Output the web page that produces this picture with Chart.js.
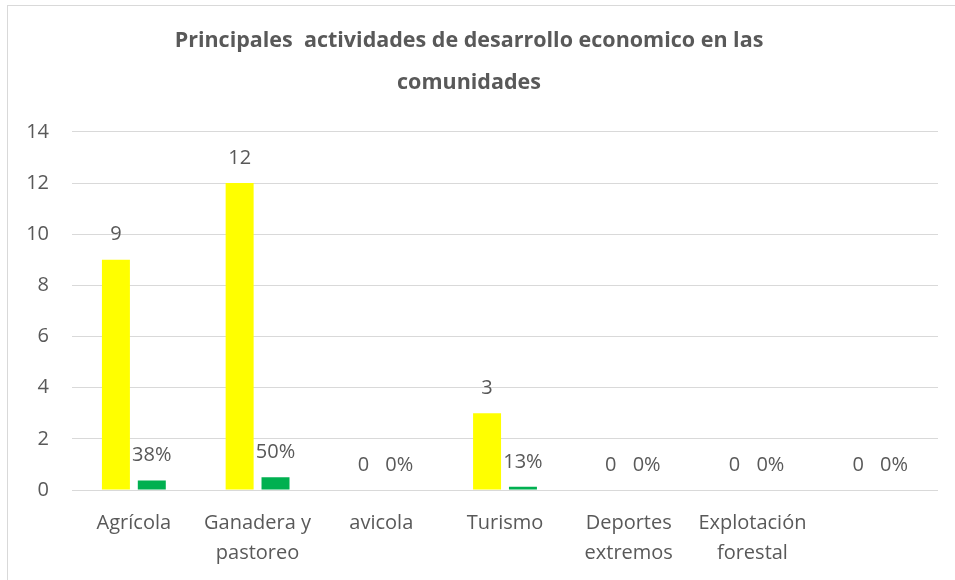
<!DOCTYPE html>
<html>
<head>
<meta charset="utf-8">
<script src="https://cdn.jsdelivr.net/npm/chart.js@4"></script>
<style>
    body { margin: 0; background: #fff; }
    #wrap { position: relative; width: 955px; height: 580px; }
    #frame { position: absolute; left: 7px; top: 5px; width: 960px; height: 590px; border: 1px solid #d9d9d9; box-sizing: border-box; }
    canvas { position: absolute; left: 0; top: 0; }
</style>
</head>
<body>
<div id="wrap">
    <div id="frame"></div>
    <canvas id="chart" width="955" height="580"></canvas>
</div>
<script>
const categories = [
    ['Agrícola'],
    ['Ganadera y', 'pastoreo'],
    ['avicola'],
    ['Turismo'],
    ['Deportes', 'extremos'],
    ['Explotación', 'forestal'],
    ['']
];

// number of communities per activity
const counts = [9, 12, 0, 3, 0, 0, 0];

// share of the total (drawn on the same axis)
const shares = [0.375, 0.5, 0, 0.125, 0, 0, 0];

const titleLines = [
    'Principales  actividades de desarrollo economico en las',
    'comunidades'
];

const textGray = '#595959';
const fontFamily = "'Open Sans', 'Noto Sans', sans-serif";

// draws the value on top of every bar
const barLabels = {
    id: 'barLabels',
    afterDatasetsDraw(chart) {
        const ctx = chart.ctx;
        ctx.save();
        ctx.font = '20px ' + fontFamily;
        ctx.fillStyle = textGray;
        ctx.textAlign = 'center';
        ctx.textBaseline = 'middle';
        chart.data.datasets.forEach(function(ds, i) {
            const meta = chart.getDatasetMeta(i);
            meta.data.forEach(function(bar, j) {
                var v = ds.data[j];
                var txt = i === 0 ? String(v) : Math.round(v * 100) + '%';
                ctx.fillText(txt, bar.x, bar.y - 25);
            });
        });
        ctx.restore();
    }
};

new Chart(document.getElementById('chart'), {
    type: 'bar',
    data: {
        labels: categories,
        datasets: [
            {
                label: 'Cantidad',
                data: counts,
                backgroundColor: '#FFFF00',
                categoryPercentage: 0.58,
                barPercentage: 0.78
            },
            {
                label: 'Porcentaje',
                data: shares,
                backgroundColor: '#00B050',
                categoryPercentage: 0.58,
                barPercentage: 0.78
            }
        ]
    },
    options: {
        responsive: false,
        animation: false,
        layout: {
            padding: { left: 0, right: 17, top: 0, bottom: 0 }
        },
        plugins: {
            legend: { display: false },
            tooltip: { enabled: false },
            title: {
                display: true,
                text: titleLines,
                color: textGray,
                font: { family: fontFamily, size: 21.5, weight: 'bold', lineHeight: 1.95 },
                padding: { top: 20, bottom: 28 }
            }
        },
        scales: {
            x: {
                grid: { display: false },
                border: { display: false },
                ticks: {
                    color: textGray,
                    font: { family: fontFamily, size: 20, lineHeight: 1.5 },
                    padding: 10,
                    maxRotation: 0,
                    autoSkip: false
                },
                afterFit: function(scale) { scale.height = 90; }
            },
            y: {
                min: 0,
                max: 14,
                grid: { color: '#d9d9d9', drawTicks: false },
                border: { display: false },
                ticks: {
                    stepSize: 2,
                    color: textGray,
                    padding: 23,
                    font: { family: fontFamily, size: 20 }
                },
                afterFit: function(scale) { scale.width = 72; }
            }
        }
    },
    plugins: [barLabels]
});
</script>
</body>
</html>
